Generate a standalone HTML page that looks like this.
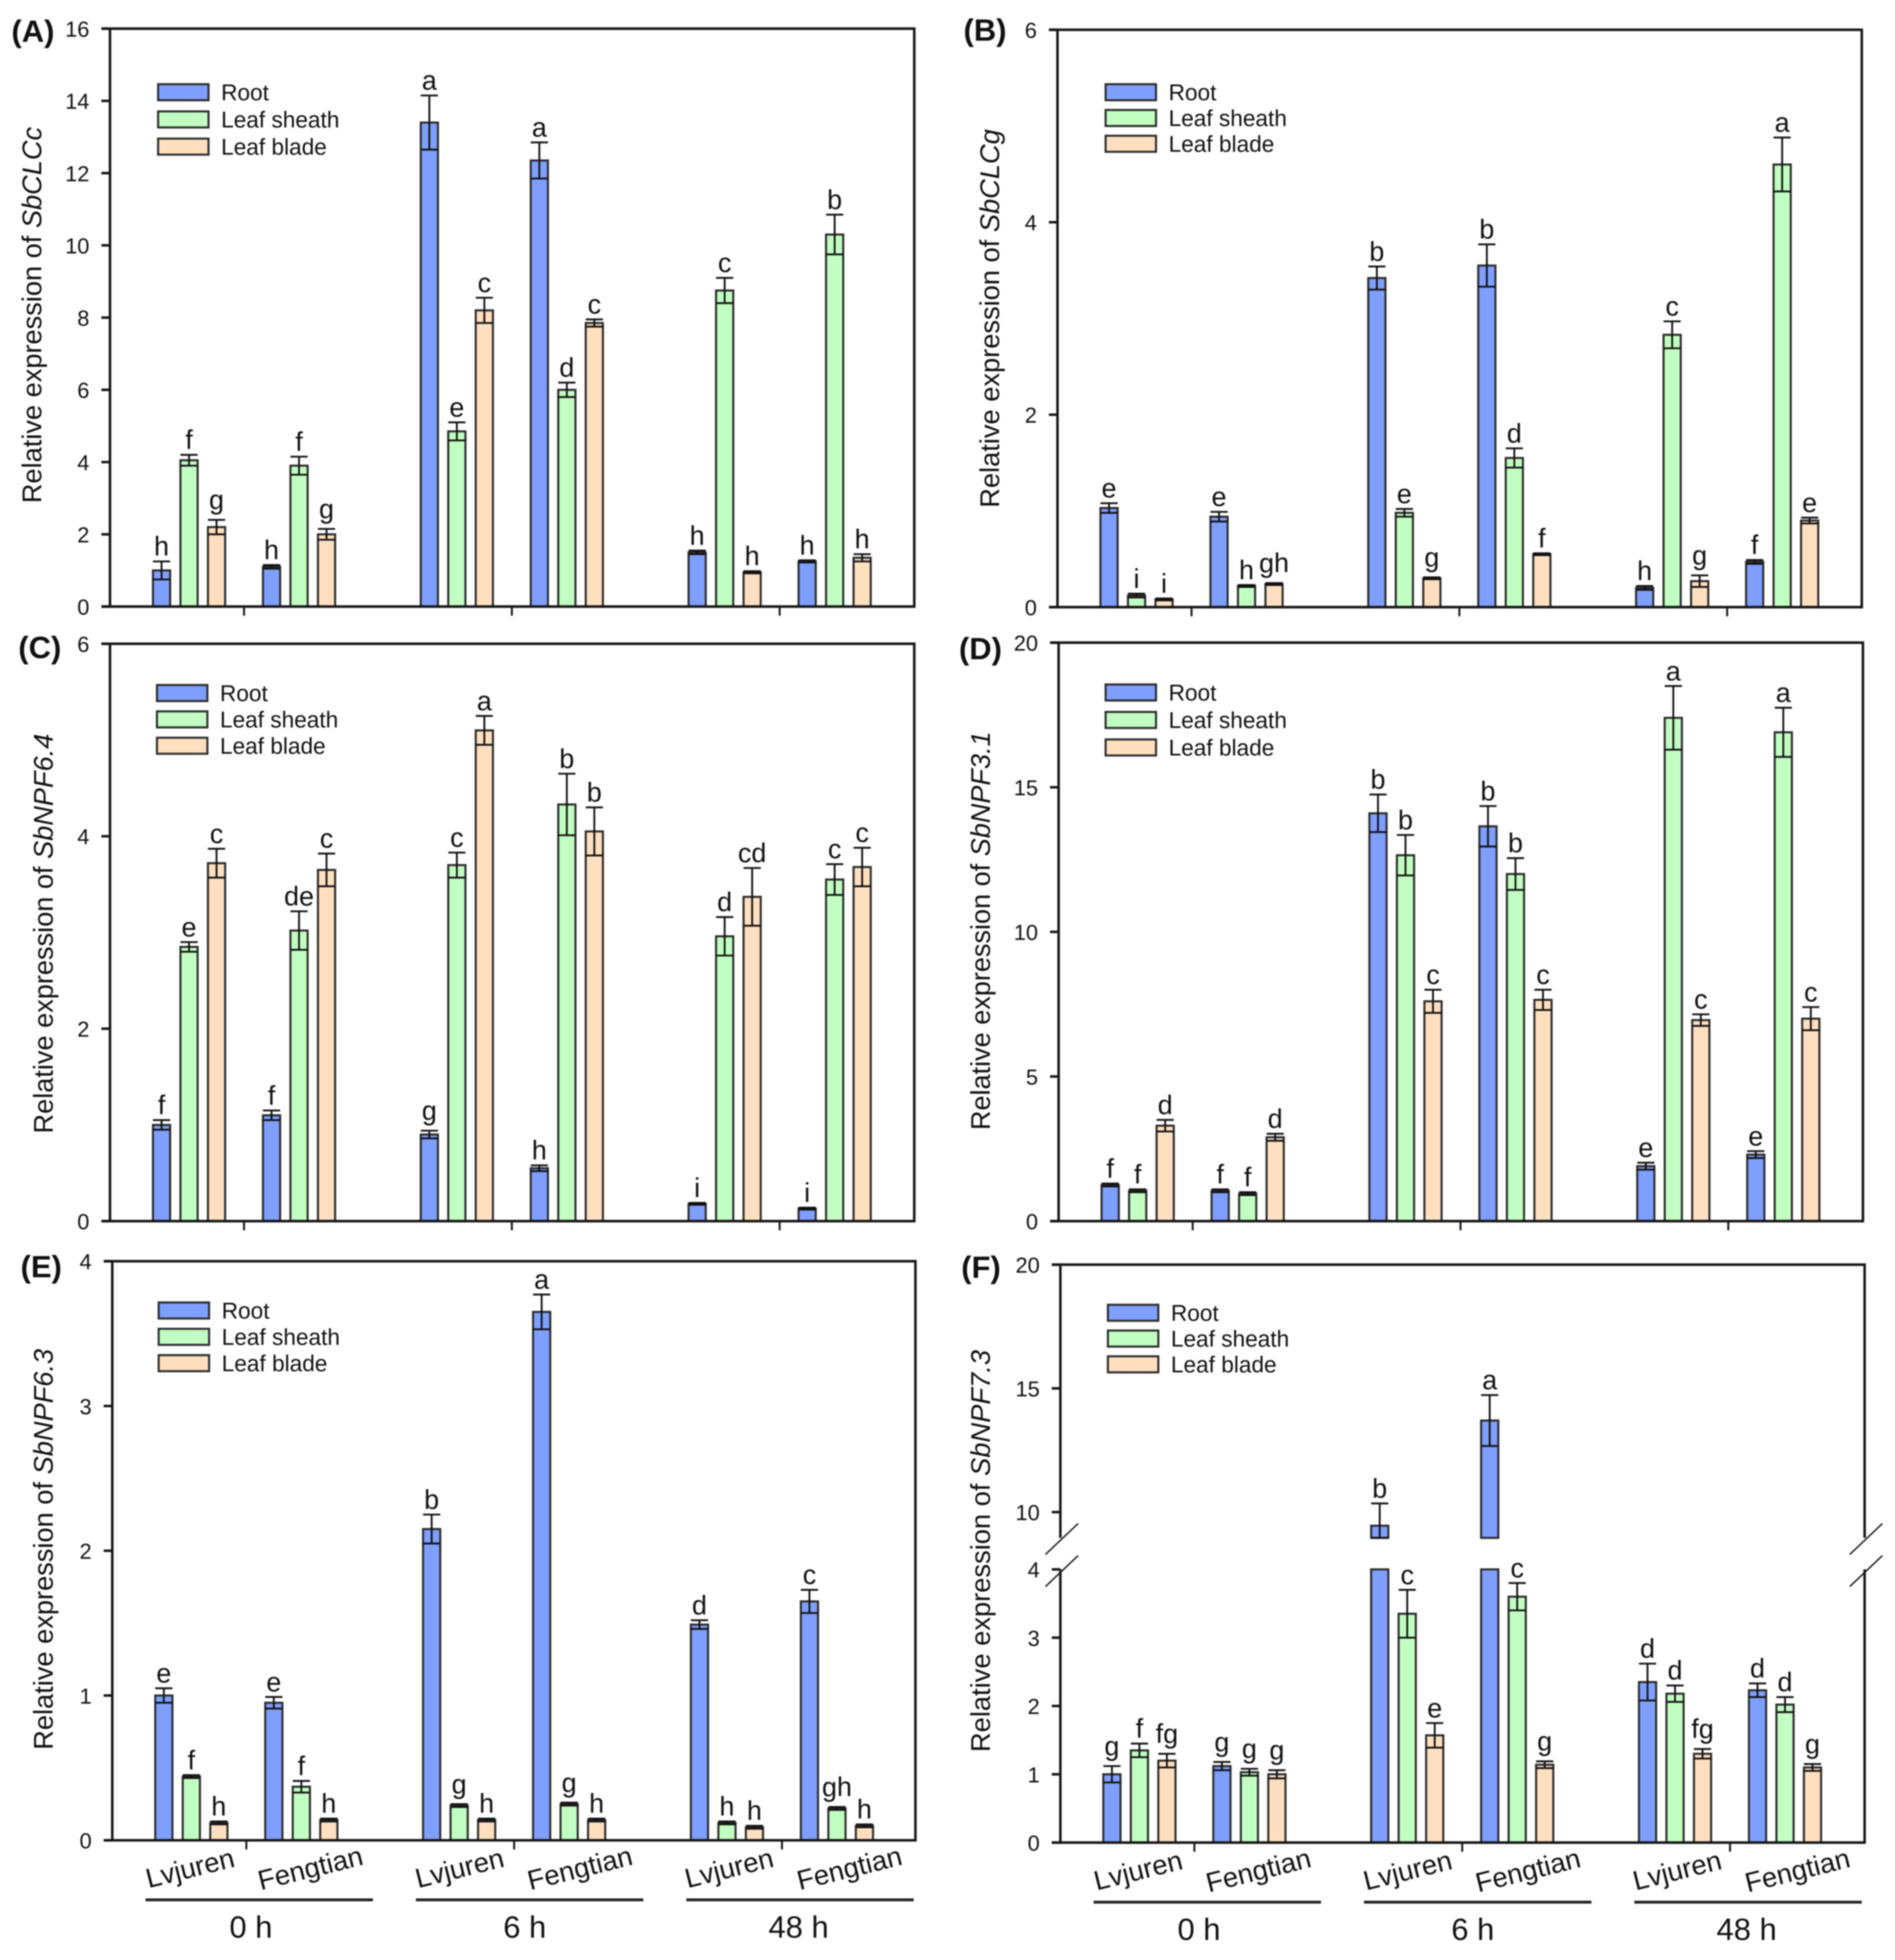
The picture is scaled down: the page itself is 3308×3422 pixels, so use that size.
<!DOCTYPE html>
<html lang="en">
<head>
<meta charset="utf-8">
<title>Relative expression of SbCLC and SbNPF genes</title>
<style>
html,body{margin:0;padding:0;background:#fff;width:3308px;height:3422px;overflow:hidden}
svg{display:block;filter:blur(1.1px)}
text{font-family:"Liberation Sans",sans-serif;fill:#111}
</style>
</head>
<body>
<svg id="figure" xmlns="http://www.w3.org/2000/svg" width="3308" height="3422" viewBox="0 0 3308 3422"></svg>
<script>
// Shared categories
const tissues = ["Root", "Leaf sheath", "Leaf blade"];
const cultivars = ["Lvjuren", "Fengtian"];
const timepoints = ["0 h", "6 h", "48 h"];

// Values are ordered: time -> cultivar -> tissue (Root, Leaf sheath, Leaf blade)
const panelATicks = [0, 2, 4, 6, 8, 10, 12, 14, 16];
const panelAValues = [1.0, 4.05, 2.2, 1.1, 3.9, 2.0, 13.4, 4.85, 8.2, 12.35, 6.0, 7.85, 1.5, 8.75, 0.95, 1.25, 10.3, 1.35];
const panelAErrors = [0.25, 0.15, 0.2, 0.05, 0.25, 0.15, 0.75, 0.25, 0.35, 0.5, 0.2, 0.1, 0.05, 0.35, 0.03, 0.03, 0.55, 0.1];
const panelALetters = ["h", "f", "g", "h", "f", "g", "a", "e", "c", "a", "d", "c", "h", "c", "h", "h", "b", "h"];

const panelBTicks = [0, 2, 4, 6];
const panelBValues = [1.03, 0.12, 0.08, 0.94, 0.22, 0.24, 3.42, 0.98, 0.3, 3.55, 1.55, 0.55, 0.2, 2.83, 0.27, 0.47, 4.6, 0.9];
const panelBErrors = [0.05, 0.02, 0.01, 0.05, 0.01, 0.01, 0.12, 0.04, 0.01, 0.22, 0.1, 0.01, 0.02, 0.14, 0.06, 0.02, 0.28, 0.03];
const panelBLetters = ["e", "i", "i", "e", "h", "gh", "b", "e", "g", "b", "d", "f", "h", "c", "g", "f", "a", "e"];

const panelCTicks = [0, 2, 4, 6];
const panelCValues = [1.0, 2.85, 3.72, 1.1, 3.02, 3.65, 0.9, 3.7, 5.1, 0.55, 4.33, 4.05, 0.18, 2.96, 3.37, 0.13, 3.55, 3.68];
const panelCErrors = [0.05, 0.05, 0.15, 0.05, 0.2, 0.17, 0.04, 0.13, 0.15, 0.03, 0.32, 0.25, 0.01, 0.2, 0.3, 0.01, 0.16, 0.2];
const panelCLetters = ["f", "e", "c", "f", "de", "c", "g", "c", "a", "h", "b", "b", "i", "d", "cd", "i", "c", "c"];

const panelDTicks = [0, 5, 10, 15, 20];
const panelDValues = [1.25, 1.05, 3.3, 1.05, 0.95, 2.9, 14.1, 12.65, 7.6, 13.65, 12.0, 7.65, 1.9, 17.4, 6.95, 2.3, 16.9, 7.0];
const panelDErrors = [0.05, 0.05, 0.2, 0.05, 0.05, 0.12, 0.65, 0.7, 0.4, 0.7, 0.55, 0.35, 0.12, 1.1, 0.2, 0.12, 0.85, 0.4];
const panelDLetters = ["f", "f", "d", "f", "f", "d", "b", "b", "c", "b", "b", "c", "e", "a", "c", "e", "a", "c"];

const panelETicks = [0, 1, 2, 3, 4];
const panelEValues = [1.0, 0.44, 0.12, 0.95, 0.37, 0.14, 2.15, 0.24, 0.14, 3.65, 0.25, 0.14, 1.49, 0.12, 0.09, 1.65, 0.22, 0.1];
const panelEErrors = [0.05, 0.01, 0.01, 0.04, 0.04, 0.01, 0.1, 0.01, 0.01, 0.12, 0.01, 0.01, 0.03, 0.01, 0.01, 0.08, 0.01, 0.01];
const panelELetters = ["e", "f", "h", "e", "f", "h", "b", "g", "h", "a", "g", "h", "d", "h", "h", "c", "gh", "h"];

const panelFTicks = [0, 1, 2, 3, 4, 10, 15, 20];
const panelFValues = [1.0, 1.35, 1.2, 1.12, 1.03, 1.0, 9.45, 3.35, 1.57, 13.7, 3.6, 1.14, 2.35, 2.18, 1.3, 2.23, 2.02, 1.1];
const panelFErrors = [0.12, 0.1, 0.1, 0.06, 0.05, 0.06, 0.9, 0.35, 0.18, 1.03, 0.2, 0.05, 0.27, 0.12, 0.07, 0.1, 0.11, 0.05];
const panelFLetters = ["g", "f", "fg", "g", "g", "g", "b", "c", "e", "a", "c", "g", "d", "d", "fg", "d", "d", "g"];

const NS = "http://www.w3.org/2000/svg";
const figure = document.getElementById("figure");
const fills = ["#7f9fff", "#c2ffc2", "#ffdfbf"];
const AXIS = "#151515";
const EDGE = "#2b2b2b";
const BREAK_BOTTOM = 2685;

function make(tag, attrs, parent, content) {
  const node = document.createElementNS(NS, tag);
  for (const key in attrs) node.setAttribute(key, attrs[key]);
  if (content !== undefined) node.textContent = content;
  parent.appendChild(node);
  return node;
}

function linearScale(cfg, ticks) {
  const lo = ticks[0], hi = ticks[ticks.length - 1];
  return v => cfg.B - (v - lo) / (hi - lo) * (cfg.B - cfg.T);
}

// Broken axis: lower segment 0-4, upper segment 9-20
function brokenScale(cfg) {
  const lowerTop = 2740, tenY = 2640;
  const unitLow = (cfg.B - lowerTop) / 4;
  const unitHigh = (tenY - cfg.T) / 10;
  return v => v <= 4 ? cfg.B - v * unitLow : tenY - (v - 10) * unitHigh;
}

function drawBar(group, x, y, barBottom, tissueIndex) {
  const bar = make("rect", {x: x - 15, y: y, width: 30, height: Math.max(barBottom - y, 0), fill: fills[tissueIndex], stroke: EDGE, "stroke-width": 3.6}, group);
  
  
}

function drawPanel(id, gene, values, errors, letters, ticks, cfg) {
  const g = make("g", {}, figure);
  
  
  const y = cfg.broken ? brokenScale(cfg) : linearScale(cfg, ticks);

  // bars, error bars and significance letters
  values.forEach((value, i) => {
    const t = Math.floor(i / 6);
    const c = Math.floor(i / 3) % 2;
    const s = i % 3;
    const cx = cfg.L + 90 + t * 467.5 + c * 192 + s * 48;
    const upperBar = cfg.broken && value > 4;
    if (upperBar) {
      drawBar(g, cx, y(4), cfg.B, s);
      drawBar(g, cx, y(value), BREAK_BOTTOM, s);
    } else {
      drawBar(g, cx, y(value), cfg.B, s);
    }
    const hi = y(value + errors[i]);
    const lo = upperBar ? Math.min(y(value - errors[i]), BREAK_BOTTOM) : y(value - errors[i]);
    const err = make("path", {d: `M${cx - 15} ${hi}H${cx + 15}M${cx} ${hi}V${lo}M${cx - 15} ${lo}H${cx + 15}`, fill: "none", stroke: "#111", "stroke-width": 3.2}, g);
    
    
    const label = letters[i];
    const lift = label.indexOf("g") >= 0 ? 19 : 10;
    const letter = make("text", {x: cx, y: hi - lift, "font-size": 47, "text-anchor": "middle"}, g, label);
    
    
  });

  // frame
  const frameD = cfg.broken
    ? `M${cfg.L - 15} ${cfg.T}H${cfg.R}V2685M${cfg.R} 2740V${cfg.B}H${cfg.L - 15}M${cfg.L} ${cfg.T}V2685M${cfg.L} 2740V${cfg.B}`
    : `M${cfg.L - 15} ${cfg.T}H${cfg.R}V${cfg.B}H${cfg.L - 15}M${cfg.L} ${cfg.T}V${cfg.B}`;
  const frame = make("path", {d: frameD, fill: "none", stroke: AXIS, "stroke-width": 4.4}, g);
  
  

  // y ticks
  ticks.forEach(tick => {
    const ty = y(tick);
    const mark = make("line", {x1: cfg.L - 15, x2: cfg.L, y1: ty, y2: ty, stroke: AXIS, "stroke-width": 4.4}, g);
    
    
    const tickLabel = make("text", {x: cfg.L - 36, y: ty + 14, "font-size": 38, "text-anchor": "end", fill: "#222"}, g, String(tick));
    
    
  });

  // x ticks
  timepoints.forEach((point, t) => {
    const tx = cfg.L + 234 + t * 467.5;
    const mark = make("line", {x1: tx, x2: tx, y1: cfg.B, y2: cfg.B + 16, stroke: AXIS, "stroke-width": 3.4}, g);
    
    
  });

  // y-axis title
  const title = make("text", {transform: `translate(${cfg.titleX} ${cfg.titleY}) rotate(-90)`, "font-size": 47, "text-anchor": "middle", textLength: cfg.titleLen, lengthAdjust: "spacingAndGlyphs", fill: "#222"}, g);
  
  
  make("tspan", {}, title, "Relative expression of ");
  make("tspan", {"font-style": "italic"}, title, gene);

  // panel tag
  const tag = make("text", {x: cfg.tagX, y: cfg.tagY + 1, "font-size": 54, "font-weight": "bold", fill: "#000"}, g, "(" + id + ")");
  
  

  // legend
  const legend = make("g", {}, g);
  
  
  tissues.forEach((tissue, k) => {
    const rowY = cfg.legendY + k * cfg.legendStep;
    const swatch = make("rect", {x: cfg.legendX, y: rowY - 14, width: 88, height: 28, fill: fills[k], stroke: EDGE, "stroke-width": 3.6}, legend);
    
    
    const entry = make("text", {x: cfg.legendX + 110, y: rowY + 14, "font-size": 39.5, fill: "#222"}, legend, tissue);
    
    
  });

  // bottom category labels
  if (cfg.showX) {
    timepoints.forEach((point, t) => {
      cultivars.forEach((cultivar, c) => {
        const lx = cfg.L + 136 + t * 470.5 + c * 210;
        const ly = cfg.B + 50;
        const cat = make("text", {transform: `translate(${lx} ${ly}) rotate(-14)`, y: 15, "font-size": 48, "text-anchor": "middle", fill: "#222"}, g, cultivar);
        
        
      });
      const ux = cfg.L + 58 + t * 472;
      const rule = make("line", {x1: ux, x2: ux + 397, y1: cfg.B + 104, y2: cfg.B + 104, stroke: "#222", "stroke-width": 5}, g);
      
      
      const time = make("text", {x: cfg.L + 242 + t * 478, y: cfg.B + 170, "font-size": 54, "text-anchor": "middle", fill: "#111"}, g, point);
      
      
    });
  }

  // axis-break marks
  if (cfg.broken) {
    [cfg.L - 26, cfg.R - 26].forEach(bx => {
      [[2714, 2660], [2770, 2716]].forEach(pair => {
        const slash = make("line", {x1: bx, y1: pair[0], x2: bx + 57, y2: pair[1], stroke: "#222", "stroke-width": 2.6}, g);
        
        
      });
    });
  }
}

drawPanel("A", "SbCLCc", panelAValues, panelAErrors, panelALetters, panelATicks,
  {L: 192, R: 1596, T: 50, B: 1059, titleX: 72, titleY: 550, titleLen: 657, tagX: 20, tagY: 72, legendX: 276, legendY: 161, legendStep: 47.5});
drawPanel("B", "SbCLCg", panelBValues, panelBErrors, panelBLetters, panelBTicks,
  {L: 1846, R: 3250, T: 52, B: 1060, titleX: 1744, titleY: 556, titleLen: 661, tagX: 1682, tagY: 70, legendX: 1930, legendY: 161, legendStep: 45});
drawPanel("C", "SbNPF6.4", panelCValues, panelCErrors, panelCLetters, panelCTicks,
  {L: 192, R: 1596, T: 1124, B: 2132, titleX: 92, titleY: 1630, titleLen: 698, tagX: 32, tagY: 1148, legendX: 274, legendY: 1210, legendStep: 46});
drawPanel("D", "SbNPF3.1", panelDValues, panelDErrors, panelDLetters, panelDTicks,
  {L: 1848, R: 3252, T: 1122, B: 2132, titleX: 1728, titleY: 1625, titleLen: 696, tagX: 1674, tagY: 1150, legendX: 1930, legendY: 1209, legendStep: 48});
drawPanel("E", "SbNPF6.3", panelEValues, panelEErrors, panelELetters, panelETicks,
  {L: 196, R: 1598, T: 2202, B: 3213, titleX: 92, titleY: 2705, titleLen: 700, tagX: 36, tagY: 2229, showX: true, legendX: 277, legendY: 2288, legendStep: 46});
drawPanel("F", "SbNPF7.3", panelFValues, panelFErrors, panelFLetters, panelFTicks,
  {L: 1851, R: 3255, T: 2208, B: 3217, titleX: 1728, titleY: 2708, titleLen: 702, tagX: 1678, tagY: 2230, showX: true, broken: true, legendX: 1934, legendY: 2292, legendStep: 45});
</script>
</body>
</html>
